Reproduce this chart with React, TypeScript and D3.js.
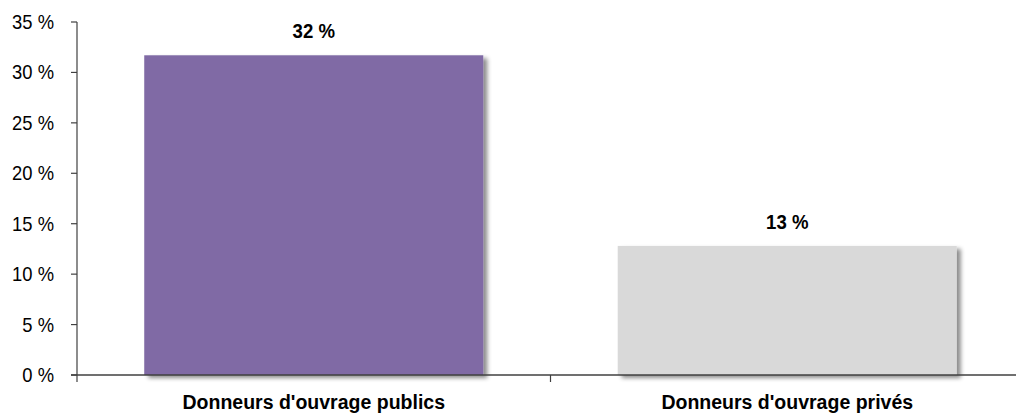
import React from "react";
import * as d3 from "d3";

const categories = ["Donneurs d'ouvrage publics", "Donneurs d'ouvrage privés"];
const values = [31.7, 12.8];
const valueLabels = ["32 %", "13 %"];
const barColors = ["#806BA5", "#D9D9D9"];
const yTicks = [0, 5, 10, 15, 20, 25, 30, 35];

const W = 1016;
const H = 420;
const left = 77;
const right = 1024;
const top = 22;
const bottom = 375;
const font = "'Liberation Sans', Arial, sans-serif";

export default function App() {
  const x = d3.scaleBand<string>().domain(categories).range([left, right]).padding(0);
  const y = d3.scaleLinear().domain([0, 35]).range([bottom, top]);
  const bw = x.bandwidth() * 0.716;
  const axisColor = "#404040";

  return (
    <svg
      width={W}
      height={H}
      style={{ position: "absolute", left: 0, top: 0, background: "#fff" }}
    >
      <defs>
        <filter id="shadow" x="-10%" y="-10%" width="130%" height="130%">
          <feDropShadow dx="4" dy="3" stdDeviation="2.2" floodColor="#000" floodOpacity="0.45" />
        </filter>
      </defs>
      {categories.map((c, i) => {
        const cx = (x(c) as number) + x.bandwidth() / 2;
        return (
          <g key={c}>
            <rect
              x={cx - bw / 2}
              y={y(values[i])}
              width={bw}
              height={bottom - y(values[i])}
              fill={barColors[i]}
              filter="url(#shadow)"
            />
            <text
              transform={`translate(${cx},${y(values[i]) - 17}) scale(0.93,1)`}
              textAnchor="middle"
              fontFamily={font}
              fontWeight="bold"
              fontSize={20}
              fill="#000"
            >
              {valueLabels[i]}
            </text>
            <text
              x={cx}
              y={409}
              textAnchor="middle"
              fontFamily={font}
              fontWeight="bold"
              fontSize={19.5}
              fill="#000"
            >
              {c}
            </text>
          </g>
        );
      })}
      {/* y axis */}
      <line x1={left} x2={left} y1={top} y2={bottom + 7} stroke={axisColor} strokeWidth={1.2} />
      {yTicks.map((t) => (
        <g key={t}>
          <line x1={left - 6} x2={left} y1={y(t)} y2={y(t)} stroke={axisColor} strokeWidth={1.2} />
          <text
            transform={`translate(54,${y(t) + 7}) scale(0.92,1)`}
            textAnchor="end"
            fontFamily={font}
            fontSize={20}
            fill="#000"
          >
            {`${t} %`}
          </text>
        </g>
      ))}
      {/* x axis */}
      <line x1={left - 6} x2={right} y1={bottom} y2={bottom} stroke={axisColor} strokeWidth={1.5} />
      {categories.slice(1).map((c) => (
        <line
          key={c}
          x1={x(c) as number}
          x2={x(c) as number}
          y1={bottom}
          y2={bottom + 7}
          stroke={axisColor}
          strokeWidth={1.2}
        />
      ))}
    </svg>
  );
}
